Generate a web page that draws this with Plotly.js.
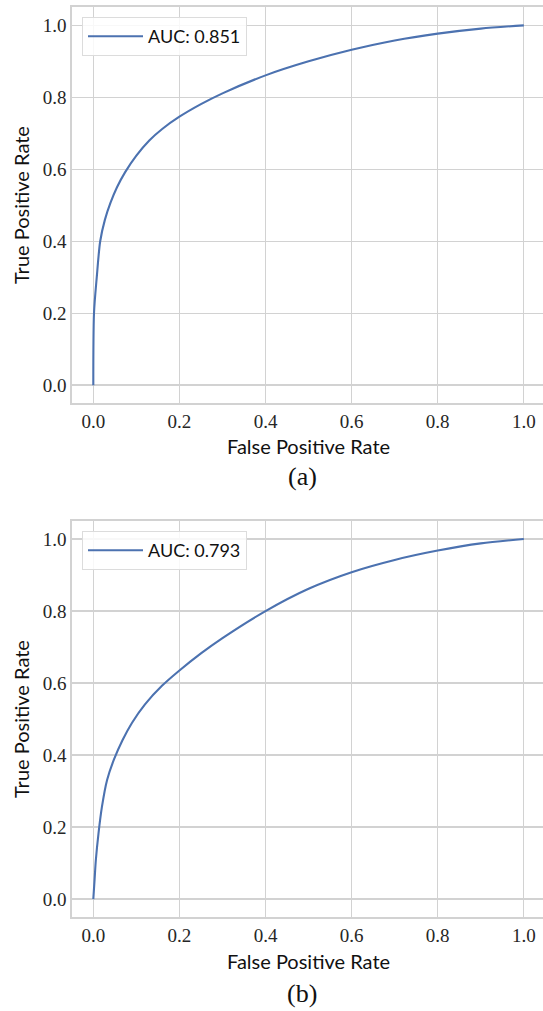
<!DOCTYPE html>
<html>
<head>
<meta charset="utf-8">
<script src="https://cdn.plot.ly/plotly-3.0.1.min.js"></script>
<style>html,body{margin:0;padding:0;background:#fff;}#chart{width:543px;height:1011px;}</style>
</head>
<body>
<div id="chart"></div>
<script>
// ROC curve (a)
const fprA = [0, 0.0016, 0.008, 0.016, 0.027, 0.04, 0.055, 0.074, 0.1, 0.13, 0.16, 0.2, 0.25, 0.3, 0.4, 0.5, 0.6, 0.7, 0.8, 0.9, 1.0];
const tprA = [0, 0.20, 0.30, 0.40, 0.46, 0.507, 0.55, 0.592, 0.638, 0.68, 0.712, 0.746, 0.781, 0.811, 0.861, 0.900, 0.932, 0.958, 0.977, 0.991, 1.0];
const labelA = "AUC: 0.851";
// ROC curve (b)
const fprB = [0, 0.003, 0.006, 0.012, 0.02, 0.032, 0.048, 0.068, 0.09, 0.12, 0.16, 0.2, 0.25, 0.3, 0.4, 0.5, 0.6, 0.7, 0.8, 0.9, 1.0];
const tprB = [0, 0.055, 0.11, 0.182, 0.256, 0.331, 0.388, 0.442, 0.49, 0.541, 0.593, 0.635, 0.6825, 0.725, 0.800, 0.862, 0.908, 0.942, 0.968, 0.988, 1.0];
const labelB = "AUC: 0.793";
const tickVals = [0, 0.2, 0.4, 0.6, 0.8, 1.0];
const tickText = ["0.0", "0.2", "0.4", "0.6", "0.8", "1.0"];
const xTitle = "False Positive Rate";
const yTitle = "True Positive Rate";
const panelA = "(a)";
const panelB = "(b)";

const W = 543, H = 1011;
const px = v => v / W;
const py = v => 1 - v / H;

const lineColor = "#4c72b0";
const gridColor = "#d2d2d2";
const serif = "Liberation Serif";
const sans = "Lato";

const traces = [
  {x: fprA, y: tprA, type: "scatter", mode: "lines", name: labelA, xaxis: "x", yaxis: "y",
   line: {color: lineColor, width: 2.1, shape: "spline", smoothing: 0.8}, legend: "legend"},
  {x: fprB, y: tprB, type: "scatter", mode: "lines", name: labelB, xaxis: "x2", yaxis: "y2",
   line: {color: lineColor, width: 2.1, shape: "spline", smoothing: 0.8}, legend: "legend2"}
];

function xax(anchor) {
  return {
    domain: [px(72), 1], anchor: anchor, range: [-0.0495, 1.0445], autorange: false,
    tickvals: tickVals, ticktext: tickText, ticks: "", showgrid: true, gridcolor: gridColor, gridwidth: 1.3,
    zeroline: false, showline: true, linecolor: gridColor, linewidth: 1.6, mirror: true,
    tickfont: {family: serif, size: 19, color: "#262626"}, fixedrange: true
  };
}
function yax(anchor, top, bottom) {
  return {
    domain: [py(bottom), py(top)], anchor: anchor, range: [-0.0505, 1.051], autorange: false,
    tickvals: tickVals, ticktext: tickText, ticks: "", showgrid: true, gridcolor: gridColor, gridwidth: 1.3,
    zeroline: false, showline: true, linecolor: gridColor, linewidth: 1.6, mirror: true,
    tickfont: {family: serif, size: 19, color: "#262626"}, fixedrange: true
  };
}

const legendCommon = {
  xanchor: "left", yanchor: "top", bgcolor: "rgba(255,255,255,0.85)", bordercolor: "#dcdcdc", borderwidth: 1,
  font: {family: sans, size: 18, color: "#111"}, itemwidth: 55
};

const layout = {
  width: W, height: H,
  margin: {l: 0, r: 0, t: 0, b: 0},
  paper_bgcolor: "#fff", plot_bgcolor: "#fff",
  font: {family: serif},
  showlegend: true,
  xaxis: xax("y"),
  yaxis: yax("x", 7, 403.3),
  xaxis2: xax("y2"),
  yaxis2: yax("x2", 520.7, 917.3),
  legend: Object.assign({x: px(82), y: py(17)}, legendCommon),
  legend2: Object.assign({x: px(82), y: py(531)}, legendCommon),
  annotations: [
    {text: xTitle, xref: "paper", yref: "paper", x: px(308.7), y: py(446), xanchor: "center", yanchor: "middle", showarrow: false, font: {family: sans, size: 20, color: "#111"}},
    {text: xTitle, xref: "paper", yref: "paper", x: px(308.7), y: py(961), xanchor: "center", yanchor: "middle", showarrow: false, font: {family: sans, size: 20, color: "#111"}},
    {text: yTitle, xref: "paper", yref: "paper", x: px(21), y: py(205), xanchor: "center", yanchor: "middle", textangle: -90, showarrow: false, font: {family: sans, size: 20, color: "#111"}},
    {text: yTitle, xref: "paper", yref: "paper", x: px(21), y: py(719), xanchor: "center", yanchor: "middle", textangle: -90, showarrow: false, font: {family: sans, size: 20, color: "#111"}},
    {text: panelA, xref: "paper", yref: "paper", x: px(302), y: py(476), xanchor: "center", yanchor: "middle", showarrow: false, font: {family: serif, size: 26, color: "#111"}},
    {text: panelB, xref: "paper", yref: "paper", x: px(302), y: py(993), xanchor: "center", yanchor: "middle", showarrow: false, font: {family: serif, size: 26, color: "#111"}}
  ]
};

Plotly.newPlot("chart", traces, layout, {displayModeBar: false, staticPlot: true});
</script>
</body>
</html>
